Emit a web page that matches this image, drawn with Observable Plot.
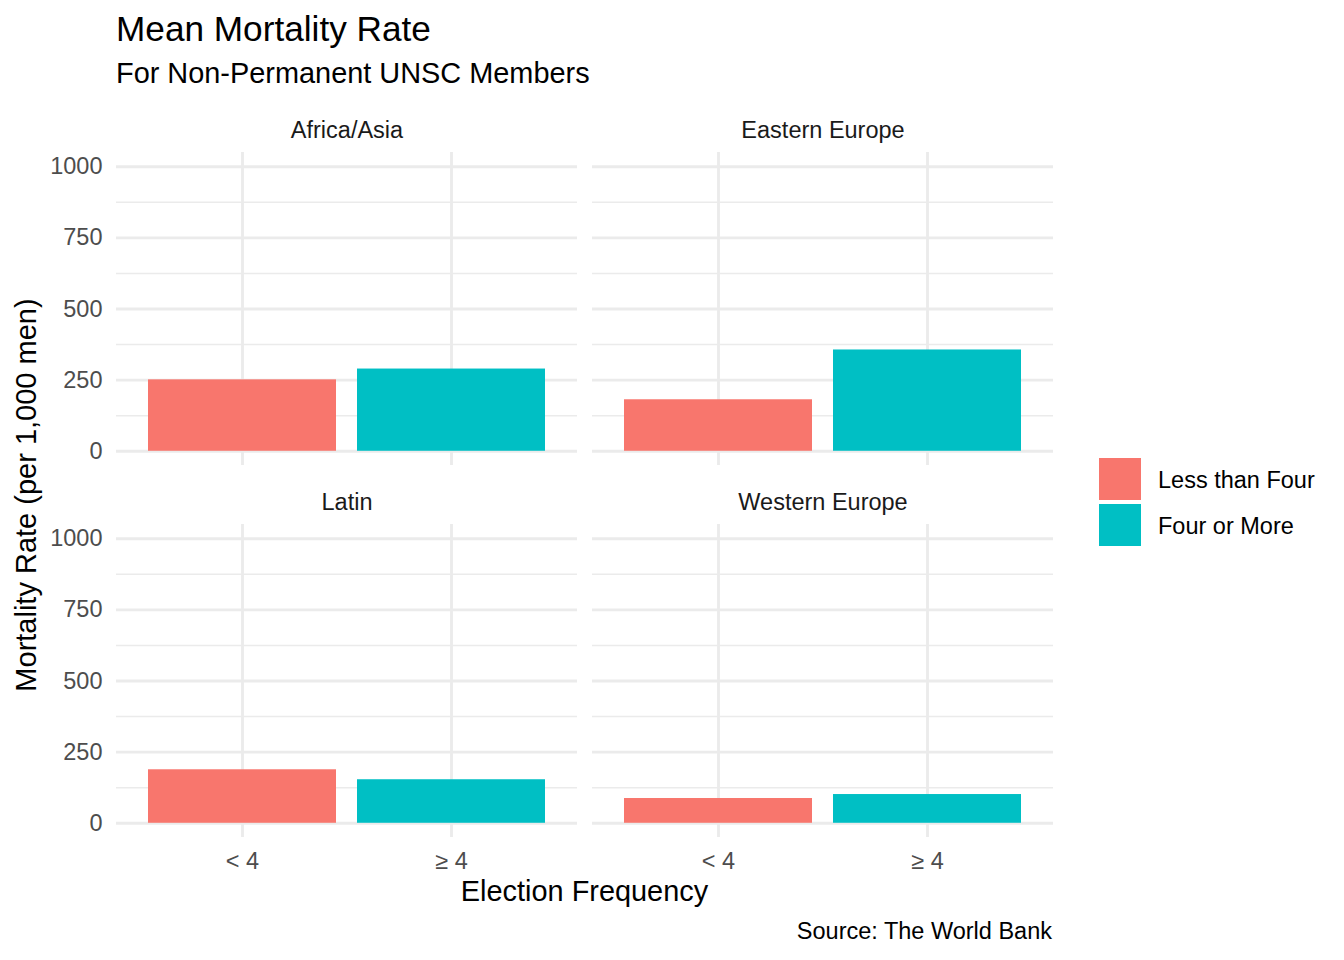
<!DOCTYPE html>
<html>
<head>
<meta charset="utf-8">
<script src="https://cdn.jsdelivr.net/npm/d3@7"></script>
<script src="https://cdn.jsdelivr.net/npm/@observablehq/plot@0.6"></script>
<style>
  html, body { margin: 0; padding: 0; background: #fff; }
  #root { position: relative; width: 1344px; height: 960px; background: #fff; overflow: hidden;
          font-family: "Liberation Sans", Arial, Helvetica, sans-serif; }
  .t { position: absolute; white-space: nowrap; line-height: 1; }
  #chart { position: absolute; left: 0; top: 110px; }
  .key { position: absolute; width: 42px; height: 42px; }
</style>
</head>
<body>
<div id="root">
  <div class="t" style="left:116px; top:10.5px; font-size:35.2px; color:#000;">Mean Mortality Rate</div>
  <div class="t" style="left:116px; top:59px; font-size:28.9px; color:#000;">For Non-Permanent UNSC Members</div>
  <div id="chart"></div>
  <div class="t" style="left:25.5px; top:494.5px; font-size:29px; color:#000; transform: translate(-50%,-50%) rotate(-90deg);">Mortality Rate (per 1,000 men)</div>
  <div class="t" style="left:584.5px; top:876.6px; font-size:28.9px; color:#000; transform: translateX(-50%);">Election Frequency</div>
  <div class="t" style="right:292px; top:920px; font-size:23.5px; color:#000;">Source: The World Bank</div>
  <div id="legend"></div>
</div>
<script>
// ---- Data ----
const regions = ["Africa/Asia", "Eastern Europe", "Latin", "Western Europe"];
const frequencies = ["< 4", "\u2265 4"];
const groups = ["Less than Four", "Four or More"];
const lessThanFour = [251, 181, 188, 87];
const fourOrMore = [289, 356, 153, 101];
const yTicks = [0, 250, 500, 750, 1000];
const yMinorTicks = [125, 375, 625, 875];
const groupColors = ["#F8766D", "#00BFC4"];

// ---- Build tables ----
const facets = regions.map((region, i) => ({region, col: i % 2, row: Math.floor(i / 2)}));
const table = [];
facets.forEach((f, i) => {
  table.push({...f, freq: frequencies[0], group: groups[0], value: lessThanFour[i]});
  table.push({...f, freq: frequencies[1], group: groups[1], value: fourOrMore[i]});
});

const chart = Plot.plot({
  width: 1344,
  height: 800,
  marginTop: 42,
  marginBottom: 73,
  marginLeft: 116,
  marginRight: 291,
  style: {fontFamily: "Liberation Sans, Arial, Helvetica, sans-serif", fontSize: "23.5px", background: "transparent"},
  fx: {domain: [0, 1], axis: null, paddingInner: 15 / 476, paddingOuter: 0},
  fy: {domain: [0, 1], axis: null, paddingInner: 59 / 372, paddingOuter: 0},
  x: {domain: frequencies, paddingInner: 0.1, paddingOuter: 0.15},
  y: {domain: [-50, 1050]},
  color: {domain: groups, range: groupColors},
  marks: [
    Plot.gridY({ticks: yMinorTicks, stroke: "#EBEBEB", strokeOpacity: 1, strokeWidth: 1.42}),
    Plot.gridY({ticks: yTicks, stroke: "#EBEBEB", strokeOpacity: 1, strokeWidth: 2.84}),
    Plot.gridX({stroke: "#EBEBEB", strokeOpacity: 1, strokeWidth: 2.84}),
    Plot.barY(table, {fx: "col", fy: "row", x: "freq", y: "value", fill: "group"}),
    Plot.axisY({ticks: yTicks, tickFormat: (d) => String(d), tickSize: 0, tickPadding: 14, color: "#4D4D4D", label: null}),
    Plot.axisX({tickSize: 0, tickPadding: 15, color: "#4D4D4D", label: null}),
    Plot.text(facets, {fx: "col", fy: "row", text: "region", frameAnchor: "top", dy: -22, lineAnchor: "middle", fill: "#1A1A1A"})
  ]
});
document.getElementById("chart").appendChild(chart);

// ---- Legend ----
const legend = document.getElementById("legend");
groups.forEach((g, i) => {
  const key = document.createElement("div");
  key.className = "key";
  key.style.left = "1099px";
  key.style.top = (458 + i * 46) + "px";
  key.style.background = groupColors[i];
  legend.appendChild(key);
  const lab = document.createElement("div");
  lab.className = "t";
  lab.style.left = "1158px";
  lab.style.top = (468.5 + i * 46) + "px";
  lab.style.fontSize = "23.5px";
  lab.style.color = "#000";
  lab.textContent = g;
  legend.appendChild(lab);
});
</script>
</body>
</html>
